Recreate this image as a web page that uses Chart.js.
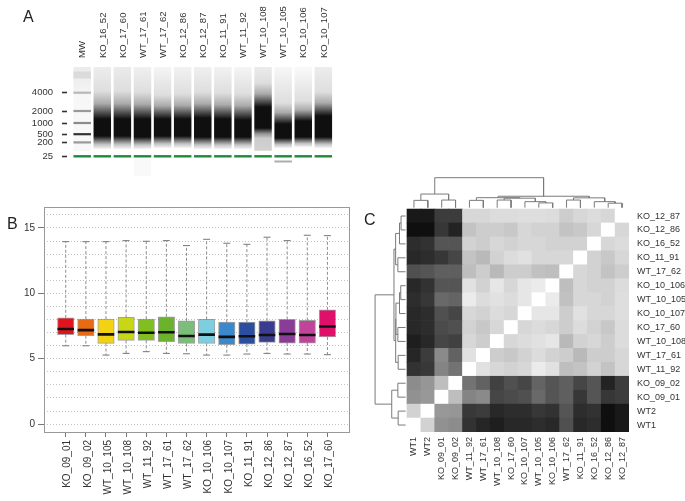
<!DOCTYPE html>
<html>
<head>
<meta charset="utf-8">
<title>RNA integrity, expression distribution and sample correlation</title>
<script src="https://cdn.jsdelivr.net/npm/chart.js@4.4.1/dist/chart.umd.min.js"></script>
<style>
  html, body { margin: 0; padding: 0; background: #fff; }
  body { position: relative; width: 685px; height: 501px; overflow: hidden;
         font-family: "Liberation Sans", Arial, sans-serif; }
  canvas { position: absolute; }
  .tag { position: absolute; font-size: 16px; line-height: 16px; color: #222; }
</style>
</head>
<body>
<canvas id="gel" width="345" height="192" style="left:0; top:0;"></canvas>
<canvas id="boxes" width="360" height="321" style="left:0; top:180px;"></canvas>
<canvas id="heat" width="325" height="341" style="left:360px; top:160px;"></canvas>
<div class="tag" style="left:23px; top:9px;">A</div>
<div class="tag" style="left:7px; top:216px;">B</div>
<div class="tag" style="left:364px; top:212px;">C</div>

<script>
// ---------- panel A: bioanalyzer gel ----------
const gelLanes = ['MW', 'KO_16_52', 'KO_17_60', 'WT_17_61', 'WT_17_62', 'KO_12_86', 'KO_12_87',
                  'KO_11_91', 'WT_11_92', 'WT_10_108', 'WT_10_105', 'KO_10_106', 'KO_10_107'];
// ladder: size (nt), migration from top of the gel, band strength (0-1)
const ladderSizes    = [6000, 4000, 2000, 1000, 500, 200, 25];
const ladderRun      = [8, 25.7, 44, 56, 67.2, 75.4, 89.2];
const ladderStrength = [0.14, 0.28, 0.4, 0.46, 0.8, 0.4, 1];
const gelAxisSizes   = [4000, 2000, 1000, 500, 200, 25];
// smear of each sample lane (gelLanes without MW), migration units
const smearStart    = [24, 24, 25, 28, 27, 25, 26, 27, 16, 36, 34, 25];
const smearCoreTop  = [52, 52, 52, 52, 52, 51, 52, 53, 40, 57, 54, 49];
const smearCoreEnd  = [69, 69, 70, 69, 69, 70, 70, 70, 61, 71, 70, 70];
const smearEnd      = [82, 82, 82, 81, 81, 82, 82, 82, 84, 81, 80, 81];
const smearTopShade = [0.07, 0.08, 0.06, 0.04, 0.05, 0.06, 0.05, 0.04, 0.08, 0.03, 0.02, 0.07];
const smearTail     = [0, 0, 0, 0, 0, 0, 0, 0, 0.2, 0, 0, 0];
// faint bands under the lower marker
const extraBandLane     = ['WT_10_105', 'WT_17_61'];
const extraBandFrom     = [93.5, 92];
const extraBandTo       = [95.5, 109];
const extraBandStrength = [0.32, 0.025];

// ---------- panel B: expression boxplots ----------
const boxSamples = ['KO_09_01', 'KO_09_02', 'WT_10_105', 'WT_10_108', 'WT_11_92', 'WT_17_61', 'WT_17_62',
                    'KO_10_106', 'KO_10_107', 'KO_11_91', 'KO_12_86', 'KO_12_87', 'KO_16_52', 'KO_17_60'];
const boxMin    = [5.99, 5.99, 5.28, 5.41, 5.54, 5.41, 5.38, 5.28, 5.28, 5.36, 5.41, 5.36, 5.36, 5.31];
const boxQ1     = [6.84, 6.76, 6.17, 6.40, 6.40, 6.30, 6.17, 6.17, 6.07, 6.12, 6.25, 6.20, 6.20, 6.66];
const boxMedian = [7.27, 7.19, 6.86, 7.04, 6.99, 7.02, 6.74, 6.84, 6.67, 6.72, 6.82, 6.89, 6.81, 7.47];
const boxQ3     = [8.13, 8.03, 8.03, 8.16, 8.03, 8.21, 7.90, 8.01, 7.80, 7.80, 7.90, 8.01, 7.93, 8.74];
const boxMax    = [13.95, 13.95, 13.95, 14.03, 13.98, 14.03, 13.65, 14.13, 13.83, 13.75, 14.29, 14.03, 14.44, 14.41];
const boxColors = ['#e0141e', '#e86a12', '#f3d214', '#c8d618', '#80bf1f', '#6cb22a', '#7abe78',
                   '#7dcfe0', '#3c88cc', '#2a4fa0', '#3a3d8f', '#8a3d96', '#c0449a', '#e0106a'];
const boxGridSteps = [0, 1, 2, 3, 4, 5, 6, 7, 8, 9, 10, 11, 12, 13, 14, 15, 16];

// ---------- panel C: correlation heatmap ----------
// leaf order of the clustering (columns left->right, rows bottom->top)
const heatLabels = ['WT1', 'WT2', 'KO_09_01', 'KO_09_02', 'WT_11_92', 'WT_17_61', 'WT_10_108', 'KO_17_60',
                    'KO_10_107', 'WT_10_105', 'KO_10_106', 'WT_17_62', 'KO_11_91', 'KO_16_52', 'KO_12_86', 'KO_12_87'];
// grey level of each cell (0 black .. 255 white), row r = heatLabels[r]
const heatValues = [
  [255, 210, 145, 140,  50,  38,  30,  40,  40,  45,  40,  80,  40,  45,  15,  25],
  [210, 255, 152, 150,  56,  60,  40,  45,  45,  55,  50,  85,  45,  50,  15,  25],
  [145, 152, 255, 190, 132, 138,  70,  75,  80, 105,  85,  95,  55,  85,  55,  60],
  [140, 150, 190, 255, 115,  98,  65,  80,  70, 100,  85,  95,  70,  85,  35,  60],
  [ 50,  56, 132, 115, 255, 225, 215, 210, 215, 235, 225, 190, 195, 210, 195, 215],
  [ 38,  60, 138,  98, 225, 255, 205, 200, 210, 220, 210, 205, 185, 205, 205, 215],
  [ 30,  40,  70,  65, 215, 205, 255, 215, 220, 225, 230, 185, 210, 215, 205, 220],
  [ 40,  45,  75,  80, 210, 200, 215, 255, 215, 220, 215, 205, 220, 210, 200, 220],
  [ 40,  45,  80,  70, 215, 210, 220, 215, 255, 230, 230, 205, 225, 215, 215, 222],
  [ 45,  55, 105, 100, 235, 220, 225, 220, 230, 255, 235, 193, 215, 215, 210, 222],
  [ 40,  50,  85,  85, 225, 210, 230, 215, 230, 235, 255, 190, 215, 210, 210, 220],
  [ 80,  85,  95,  95, 190, 205, 185, 205, 205, 193, 190, 255, 215, 210, 195, 205],
  [ 40,  45,  55,  70, 195, 185, 210, 220, 225, 215, 215, 215, 255, 210, 200, 215],
  [ 45,  50,  85,  85, 210, 205, 215, 210, 215, 215, 210, 210, 210, 255, 215, 220],
  [ 15,  15,  55,  35, 195, 205, 205, 200, 215, 210, 210, 195, 200, 215, 255, 215],
  [ 25,  25,  60,  60, 215, 215, 220, 220, 222, 222, 220, 205, 215, 220, 215, 255],
];
// hierarchical clustering: [left, right, height]; a number refers to an earlier merge
const treeMerges = [
  ['WT1', 'WT2', 0.244],
  ['KO_09_01', 'KO_09_02', 0.254],
  [0, 1, 0.454],
  ['WT_11_92', 'WT_17_61', 0.244],
  ['WT_10_108', 'KO_17_60', 0.254],
  ['WT_10_105', 'KO_10_106', 0.159],
  ['KO_10_107', 5, 0.2],
  [4, 6, 0.317],
  [3, 7, 0.333],
  ['WT_17_62', 'KO_11_91', 0.254],
  ['KO_12_86', 'KO_12_87', 0.149],
  ['KO_16_52', 10, 0.2],
  [9, 11, 0.327],
  [8, 12, 0.381],
  [2, 13, 1.0],
];

Chart.defaults.font.family = '"Liberation Sans", Arial, sans-serif';
Chart.defaults.color = '#333';
Chart.defaults.plugins.legend.display = false;
Chart.defaults.plugins.tooltip.enabled = false;

function shade(darkness) {
  const v = Math.round(255 * (1 - darkness));
  return `rgb(${v},${v},${v})`;
}

function grey(v) {
  return `rgb(${v},${v},${v})`;
}

/** Vertical gradient for a sample smear, built on the gel's y scale. */
function smearFill(context) {
  const chart = context.chart;
  const i = context.dataIndex;
  if (!chart.chartArea) return shade(0.5);
  const y = chart.scales.y;
  const s = smearStart[i], c1 = smearCoreTop[i], c2 = smearCoreEnd[i], e = smearEnd[i];
  const grad = chart.ctx.createLinearGradient(0, y.getPixelForValue(0), 0, y.getPixelForValue(e));
  const f = v => Math.min(1, Math.max(0, v / e));
  grad.addColorStop(0, shade(smearTopShade[i]));
  grad.addColorStop(f(s), shade(0.13));
  grad.addColorStop(f(s + 0.45 * (c1 - s)), shade(0.33));
  grad.addColorStop(f(s + 0.75 * (c1 - s)), shade(0.66));
  grad.addColorStop(f(c1), shade(0.94));
  grad.addColorStop(f(c2), shade(0.94));
  if (smearTail[i] > 0) {
    grad.addColorStop(f(c2 + 0.25 * (e - c2)), shade(0.42));
    grad.addColorStop(f(c2 + 0.45 * (e - c2)), shade(smearTail[i]));
    grad.addColorStop(f(e - 1), shade(smearTail[i] * 0.9));
    grad.addColorStop(1, shade(0.08));
  } else {
    grad.addColorStop(f(c2 + 0.35 * (e - c2)), shade(0.55));
    grad.addColorStop(f(c2 + 0.65 * (e - c2)), shade(0.24));
    grad.addColorStop(1, shade(0.04));
  }
  return grad;
}

function ladderFill(context) {
  const chart = context.chart;
  if (!chart.chartArea) return shade(0.05);
  const y = chart.scales.y;
  const grad = chart.ctx.createLinearGradient(0, y.getPixelForValue(0), 0, y.getPixelForValue(84));
  grad.addColorStop(0, shade(0.08));
  grad.addColorStop(0.2, shade(0.06));
  grad.addColorStop(0.35, shade(0.03));
  grad.addColorStop(1, shade(0.03));
  return grad;
}

const gelBar = { type: 'bar', grouped: false, barThickness: 17.5, borderWidth: 0, inflateAmount: 0 };
const markerIdx = ladderSizes.indexOf(25);

new Chart(document.getElementById('gel'), {
  type: 'bar',
  data: {
    datasets: [
      { ...gelBar, order: 5,
        data: smearEnd.map((end, i) => ({ x: i + 1, y: [0, end] })),
        backgroundColor: smearFill },
      { ...gelBar, order: 4, data: [{ x: 0, y: [0, 84] }], backgroundColor: ladderFill },
      { ...gelBar, order: 3,
        data: ladderRun.slice(0, markerIdx).map((r, k) => ({ x: 0, y: k === 0 ? [r - 3.5, r + 3.5] : [r - 1.1, r + 1.1] })),
        backgroundColor: ladderStrength.slice(0, markerIdx).map(shade) },
      { ...gelBar, order: 2,
        data: gelLanes.map((_, i) => ({ x: i, y: [ladderRun[markerIdx] - 1.1, ladderRun[markerIdx] + 1.3] })),
        backgroundColor: '#1c8a3a' },
      { ...gelBar, order: 1,
        data: extraBandLane.map((lane, k) => ({ x: gelLanes.indexOf(lane), y: [extraBandFrom[k], extraBandTo[k]] })),
        backgroundColor: extraBandStrength.map(shade) },
    ],
  },
  options: {
    responsive: false,
    animation: false,
    layout: { padding: { left: 0, top: 0, right: 9, bottom: 16 } },
    scales: {
      x: {
        type: 'linear', position: 'top', offset: false, min: -0.756, max: 12.63,
        afterBuildTicks: axis => { axis.ticks = gelLanes.map((_, i) => ({ value: i })); },
        afterFit: axis => { axis.height = 67; },
        ticks: { autoSkip: false, minRotation: 90, maxRotation: 90, padding: 9, labelOffset: 12,
                 color: '#333', font: { size: 9.5 }, callback: (v, i) => gelLanes[i] },
        grid: { display: false, drawTicks: false, offset: false },
        border: { display: false },
      },
      y: {
        type: 'linear', reverse: true, min: 0, max: 109,
        afterBuildTicks: axis => {
          axis.ticks = gelAxisSizes.map(sz => ({ value: ladderRun[ladderSizes.indexOf(sz)] }));
        },
        afterFit: axis => { axis.width = 67; },
        ticks: { autoSkip: false, padding: 9, color: '#333', font: { size: 9.5 },
                 callback: (v, i) => gelAxisSizes[i] },
        grid: { display: true, drawOnChartArea: false, drawTicks: true, tickLength: 5,
                tickColor: '#333', tickWidth: 1.6 },
        border: { display: false },
      },
    },
  },
});

// ---------- panel B ----------
const plotFrame = {
  id: 'plotFrame',
  afterDatasetsDraw(chart) {
    const { ctx, chartArea: a } = chart;
    ctx.save();
    ctx.strokeStyle = '#999';
    ctx.lineWidth = 1;
    ctx.strokeRect(Math.round(a.left) + 0.5, Math.round(a.top) + 0.5,
                   Math.round(a.right - a.left), Math.round(a.bottom - a.top));
    ctx.restore();
  },
};

const whiskerPoints = [];
boxSamples.forEach((_, i) => {
  whiskerPoints.push({ x: i + 1, y: boxQ3[i] }, { x: i + 1, y: boxMax[i] }, { x: i + 1, y: null },
                     { x: i + 1, y: boxQ1[i] }, { x: i + 1, y: boxMin[i] }, { x: i + 1, y: null });
});

new Chart(document.getElementById('boxes'), {
  type: 'bar',
  data: {
    datasets: [
      { type: 'scatter', order: 0, data: boxMedian.map((m, i) => ({ x: i + 1, y: m })),
        pointStyle: 'line', pointRadius: 8.25, pointBorderWidth: 2.6, pointBorderColor: '#111',
        borderColor: '#111' },
      { type: 'scatter', order: 1,
        data: boxMax.map((m, i) => ({ x: i + 1, y: m })).concat(boxMin.map((m, i) => ({ x: i + 1, y: m }))),
        pointStyle: 'line', pointRadius: 3.5, pointBorderWidth: 1, pointBorderColor: '#777',
        borderColor: '#777' },
      { type: 'bar', order: 2, grouped: false, barThickness: 16.5,
        data: boxQ1.map((q, i) => ({ x: i + 1, y: [q, boxQ3[i]] })),
        backgroundColor: boxColors, borderColor: 'rgba(70,70,70,0.5)', borderWidth: 1, borderSkipped: false },
      { type: 'line', order: 3, data: whiskerPoints, borderColor: '#8c8c8c', borderWidth: 1,
        borderDash: [3, 2], pointRadius: 0, spanGaps: false, fill: false },
    ],
  },
  options: {
    responsive: false,
    animation: false,
    layout: { padding: { left: 0, top: 27, right: 7, bottom: 0 } },
    scales: {
      x: {
        type: 'linear', offset: false, min: -0.08, max: 15.08,
        afterBuildTicks: axis => { axis.ticks = boxSamples.map((_, i) => ({ value: i + 1 })); },
        afterFit: axis => { axis.height = 69; },
        ticks: { autoSkip: false, minRotation: 90, maxRotation: 90, padding: 3, labelOffset: 2,
                 color: '#333', font: { size: 10 }, callback: (v, i) => boxSamples[i] },
        grid: { offset: false, drawOnChartArea: false, drawTicks: true, tickLength: 5, tickColor: '#777' },
        border: { display: false },
      },
      y: {
        min: -0.6, max: 16.6,
        afterBuildTicks: axis => { axis.ticks = boxGridSteps.map(v => ({ value: v })); },
        afterFit: axis => { axis.width = 44; },
        ticks: { autoSkip: false, padding: 3, color: '#333', font: { size: 10 },
                 callback: v => (v % 5 === 0 ? String(v) : '') },
        grid: { color: '#c2c2c2', lineWidth: 1, tickLength: 6, tickWidth: 1,
                tickColor: c => (c.tick && c.tick.value % 5 === 0 ? '#777' : 'rgba(0,0,0,0)') },
        border: { display: false, dash: [1, 2] },
      },
    },
  },
  plugins: [plotFrame],
});

// ---------- panel C ----------
const DEND_GAP = 0.1;
const TOP_SPAN = 2.15;
const LEFT_SPAN = 2.2;

/** Line points for the dendrogram; toPoint maps (leaf position, height) to chart coords. */
function dendrogramPoints(toPoint) {
  const centre = [], height = [];
  const place = node => (typeof node === 'number'
    ? { c: centre[node], h: height[node] }
    : { c: heatLabels.indexOf(node) + 0.5, h: 0 });
  const pts = [];
  treeMerges.forEach(([a, b, h], k) => {
    const A = place(a), B = place(b);
    pts.push(toPoint(A.c, A.h), toPoint(A.c, h), toPoint(B.c, h), toPoint(B.c, B.h), { x: 0, y: null });
    centre[k] = (A.c + B.c) / 2;
    height[k] = h;
  });
  return pts;
}

const dendroStyle = { type: 'scatter', showLine: true, borderColor: '#7a7a7a', borderWidth: 1,
                      pointRadius: 0, spanGaps: false, clip: false, order: 0 };

const heatDatasets = heatValues.map((row, r) => ({
  type: 'bar', order: 1, grouped: false, barPercentage: 1, categoryPercentage: 1, borderWidth: 0,
  data: row.map((_, c) => ({ x: c + 0.5, y: [r, r + 1] })),
  backgroundColor: row.map(grey),
}));

new Chart(document.getElementById('heat'), {
  type: 'bar',
  data: {
    datasets: [
      { ...dendroStyle, data: dendrogramPoints((c, h) => ({ x: c, y: 16 + DEND_GAP + h * TOP_SPAN })) },
      { ...dendroStyle, data: dendrogramPoints((c, h) => ({ x: -DEND_GAP - h * LEFT_SPAN, y: c })) },
      ...heatDatasets,
    ],
  },
  options: {
    responsive: false,
    animation: false,
    layout: { padding: { left: 14, top: 17, right: 0, bottom: 0 } },
    scales: {
      x: {
        type: 'linear', offset: false, min: -2.378, max: 16,
        afterBuildTicks: axis => { axis.ticks = heatLabels.map((_, i) => ({ value: i + 0.5 })); },
        afterFit: axis => { axis.height = 69; },
        ticks: { autoSkip: false, minRotation: 90, maxRotation: 90, padding: 5, color: '#333',
                 font: { size: 9 }, callback: (v, i) => heatLabels[i] },
        grid: { display: false, drawTicks: false, offset: false },
        border: { display: false },
      },
      y: {
        type: 'linear', position: 'right', min: 0, max: 18.3,
        afterBuildTicks: axis => { axis.ticks = heatLabels.map((_, i) => ({ value: i + 0.5 })); },
        afterFit: axis => { axis.width = 56; },
        ticks: { autoSkip: false, padding: 8, color: '#333', font: { size: 9 },
                 callback: (v, i) => heatLabels[i] },
        grid: { display: false, drawTicks: false },
        border: { display: false },
      },
    },
  },
});
</script>
</body>
</html>
